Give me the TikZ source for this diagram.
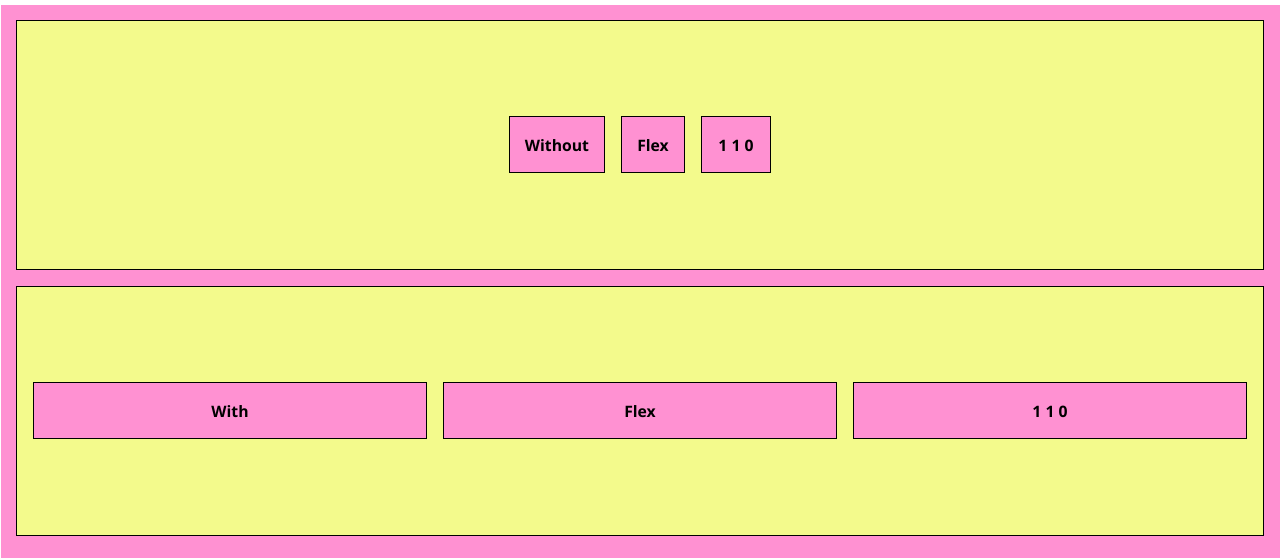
\documentclass[tikz,border=0pt]{standalone}
\usepackage{fontspec}
\setmainfont{Open Sans}
\definecolor{pk}{HTML}{FF91D2}
\definecolor{yl}{HTML}{F3FA8C}
\tikzset{
  panel/.style={draw=black, line width=0.75pt, fill=yl},
  item/.style={draw=black, line width=0.75pt, fill=pk},
  lbl/.style={font=\fontsize{11.8}{14}\selectfont\bfseries, text=black, anchor=base, inner sep=0pt}
}
\begin{document}
\begin{tikzpicture}[x=0.75pt,y=-0.75pt]
\useasboundingbox (0,0) rectangle (1280,558);
\fill[white] (0,0) rectangle (1280,558);
\fill[pk] (1,5) rectangle (1280,558);
\draw[panel] (16.5,20.5) rectangle (1263.5,269.5);
\draw[panel] (16.5,286.5) rectangle (1263.5,535.5);
\draw[item] (509.5,116.5) rectangle (604.5,172.5);
\draw[item] (621.5,116.5) rectangle (684.5,172.5);
\draw[item] (701.5,116.5) rectangle (770.5,172.5);
\draw[item] (33.5,382.5) rectangle (426.5,438.5);
\draw[item] (443.5,382.5) rectangle (836.5,438.5);
\draw[item] (853.5,382.5) rectangle (1246.5,438.5);
\node[lbl] (a) at (557,151.5) {Without};
\node[lbl] (b) at (653,151.5) {Flex};
\node[lbl] (c) at (736,151.5) {1 1 0};
\node[lbl] (d) at (230,417.5) {With};
\node[lbl] (e) at (640,417.5) {Flex};
\node[lbl] (f) at (1050,417.5) {1 1 0};
\end{tikzpicture}
\end{document}
